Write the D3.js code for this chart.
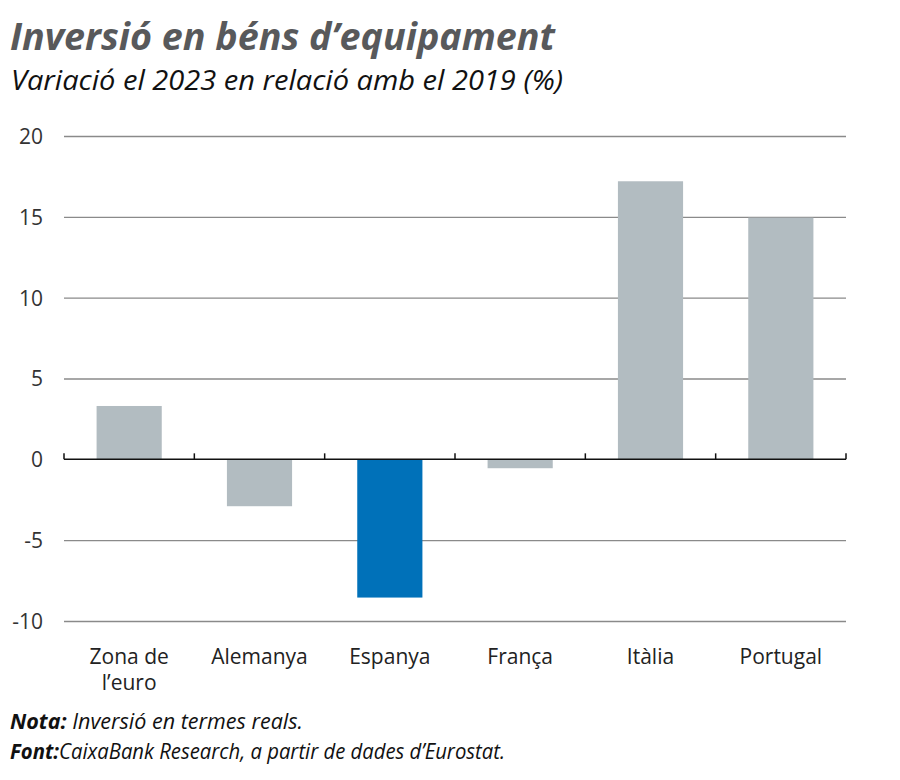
<!DOCTYPE html>
<html><head><meta charset="utf-8">
<script src="https://cdn.jsdelivr.net/npm/d3@7"></script>
<style>body{margin:0;background:#fff}</style>
</head><body>
<svg id="c" width="900" height="780"></svg>
<script>
const categories = [["Zona de","l’euro"],["Alemanya"],["Espanya"],["França"],["Itàlia"],["Portugal"]];
const values = [3.3, -2.9, -8.55, -0.55, 17.2, 14.95];
const highlight = [false, false, true, false, false, false];
const yTicks = [20, 15, 10, 5, 0, -5, -10];

(function () {
const svg = d3.select("#c");
const F = "'Open Sans', 'Noto Sans', sans-serif";
const mLeft = 64, mRight = 846, mTop = 136, mBottom = 621;

const x = d3.scaleBand().domain(d3.range(categories.length)).range([mLeft, mRight]).paddingInner(0.5).paddingOuter(0.25);
const y = d3.scaleLinear().domain([-10, 20]).range([mBottom, mTop]);

// title
svg.append("text").attr("x", 10).attr("y", 50).attr("font-family", F).attr("font-weight", 700)
  .attr("font-style", "italic").attr("font-size", 37).attr("fill", "#58595b")
  .attr("textLength", 545).attr("lengthAdjust", "spacingAndGlyphs")
  .text("Inversió en béns d’equipament");
svg.append("text").attr("x", 11).attr("y", 90).attr("font-family", F)
  .attr("font-style", "italic").attr("font-size", 28).attr("fill", "#111")
  .attr("textLength", 552).attr("lengthAdjust", "spacingAndGlyphs")
  .text("Variació el 2023 en relació amb el 2019 (%)");

// grid
const ya = d3.axisLeft(y).tickValues(yTicks).tickSize(0).tickPadding(0).tickFormat(d => String(d));
const gy = svg.append("g").attr("transform", `translate(${mLeft},0)`).call(ya);
gy.select(".domain").remove();
gy.selectAll("text").attr("x", -21).attr("font-family", F).attr("font-size", 21).attr("fill", "#333").attr("dy", "0.35em");
gy.selectAll(".tick").filter(d => d !== 0).append("line").attr("x1", 0).attr("x2", mRight - mLeft).attr("stroke", "#8a8a8a").attr("stroke-width", 1.3);

// bars
svg.append("g").selectAll("rect").data(values).join("rect")
  .attr("x", (d, i) => x(i)).attr("width", x.bandwidth())
  .attr("y", d => y(Math.max(0, d))).attr("height", d => Math.abs(y(d) - y(0)))
  .attr("fill", (d, i) => highlight[i] ? "#0071b9" : "#b2bcc1");

// zero axis
const gx = svg.append("g").attr("transform", `translate(0,${y(0)})`);
gx.append("line").attr("x1", mLeft).attr("x2", mRight).attr("stroke", "#111").attr("stroke-width", 1.5);
const bounds = d3.range(categories.length + 1).map(i => mLeft + i * (mRight - mLeft) / categories.length);
gx.selectAll(".bt").data(bounds).join("line").attr("class", "bt")
  .attr("x1", d => d).attr("x2", d => d).attr("y1", 0).attr("y2", -6).attr("stroke", "#111").attr("stroke-width", 1.5);

// category labels
const gl = svg.append("g");
categories.forEach((lines, i) => {
  const cx = x(i) + x.bandwidth() / 2;
  const t = gl.append("text").attr("x", cx).attr("y", 664)
    .attr("text-anchor", "middle").attr("font-family", F).attr("font-size", 21).attr("fill", "#222");
  lines.forEach((l, j) => t.append("tspan").attr("x", cx).attr("dy", j ? 26 : 0).text(l));
});

// notes
const n1 = svg.append("text").attr("x", 10).attr("y", 729).attr("font-family", F).attr("font-size", 21).attr("font-style", "italic").attr("fill", "#111")
  .attr("textLength", 293).attr("lengthAdjust", "spacingAndGlyphs");
n1.append("tspan").attr("font-weight", 700).text("Nota:");
n1.append("tspan").text(" Inversió en termes reals.");
const n2 = svg.append("text").attr("x", 10).attr("y", 759).attr("font-family", F).attr("font-size", 21).attr("font-style", "italic").attr("fill", "#111")
  .attr("textLength", 495).attr("lengthAdjust", "spacingAndGlyphs");
n2.append("tspan").attr("font-weight", 700).text("Font:");
n2.append("tspan").text("CaixaBank Research, a partir de dades d’Eurostat.");
})();
</script>
</body></html>
